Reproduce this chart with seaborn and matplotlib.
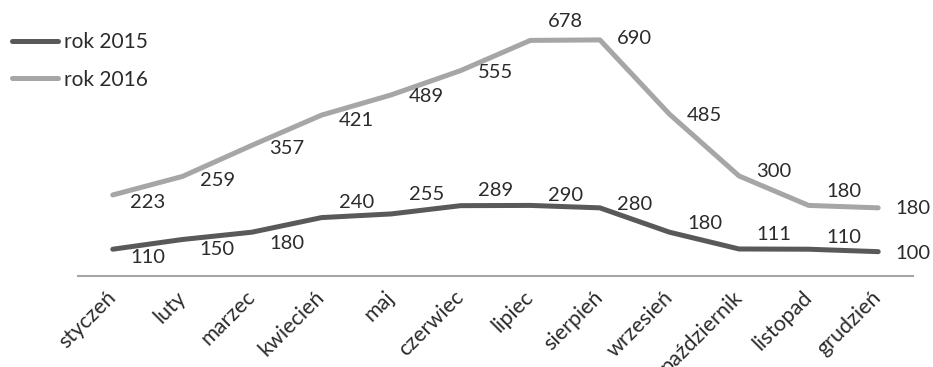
import numpy as np
import pandas as pd
import matplotlib
matplotlib.use("Agg")
import matplotlib.pyplot as plt
import seaborn as sns


# DATA

months = ["styczeń", "luty", "marzec", "kwiecień", "maj", "czerwiec",
          "lipiec", "sierpień", "wrzesień", "październik", "listopad", "grudzień"]
rok_2015 = [110, 150, 180, 240, 255, 289, 290, 280, 180, 111, 110, 100]
rok_2016 = [223, 259, 357, 421, 489, 555, 678, 690, 485, 300, 180, 180]

# vertical nudges of the value labels (px, + = down)
dy_2015 = [8, 10, 11, -15, -19, -15, -10, -3, -9, -14, -12, 2]
dy_2016 = [8, 4, 3, 5, 2, 2, -19, -1, 1, -4, -14, 1]


# STYLE

sns.set_theme(style="white")
plt.rcParams['font.family'] = ['Lato', 'DejaVu Sans']
txt_color = "#2b2b2b"
colors = {"rok 2015": "#595959", "rok 2016": "#a6a6a6"}

# stacked line chart -> 2016 is drawn on top of 2015
top_2016 = np.array(rok_2015) + np.array(rok_2016)

df = pd.DataFrame({
    "x": list(range(len(months))) * 2,
    "y": list(rok_2015) + list(top_2016),
    "seria": ["rok 2015"] * len(months) + ["rok 2016"] * len(months),
})


# PLOT

fig = plt.figure(figsize=(9.33, 3.67), dpi=100)
ax = fig.add_axes([78 / 933, 91 / 367, 835 / 933, 276 / 367])

sns.lineplot(data=df, x="x", y="y", hue="seria", palette=colors,
             linewidth=3.6, sort=False, ax=ax, solid_capstyle="round")

ax.set_xlim(-0.5, len(months) - 0.5)
ax.set_ylim(0, 1134)

# value labels, to the right of each point
for vals, ys, dys in [(rok_2015, rok_2015, dy_2015), (rok_2016, top_2016, dy_2016)]:
    for i, (v, yv, d) in enumerate(zip(vals, ys, dys)):
        ax.annotate(str(v), (i, yv), xytext=(35 * 0.72, -d * 0.72),
                    textcoords="offset points", ha="center", va="center",
                    fontsize=14.5, color=txt_color)

# axes cosmetics
for s in ["top", "left", "right"]:
    ax.spines[s].set_visible(False)
ax.spines["bottom"].set_color("#a6a6a6")
ax.spines["bottom"].set_linewidth(1.5)
ax.set_yticks([])
ax.set_xticks(range(len(months)))
ax.set_xticklabels(months, rotation=45, ha="right", va="center",
                   rotation_mode="anchor", fontsize=15.5, color=txt_color)
ax.tick_params(axis="x", length=0, pad=13)
ax.set_xlabel("")
ax.set_ylabel("")

leg = ax.legend(loc="upper left", bbox_to_anchor=(12 / 933, 1 - 32 / 367),
                bbox_transform=fig.transFigure, frameon=False, fontsize=15,
                handlelength=2.2, handletextpad=0.3, labelspacing=0.85,
                borderpad=0, borderaxespad=0)
for t in leg.get_texts():
    t.set_color(txt_color)

fig.savefig("out.png", dpi=100)
